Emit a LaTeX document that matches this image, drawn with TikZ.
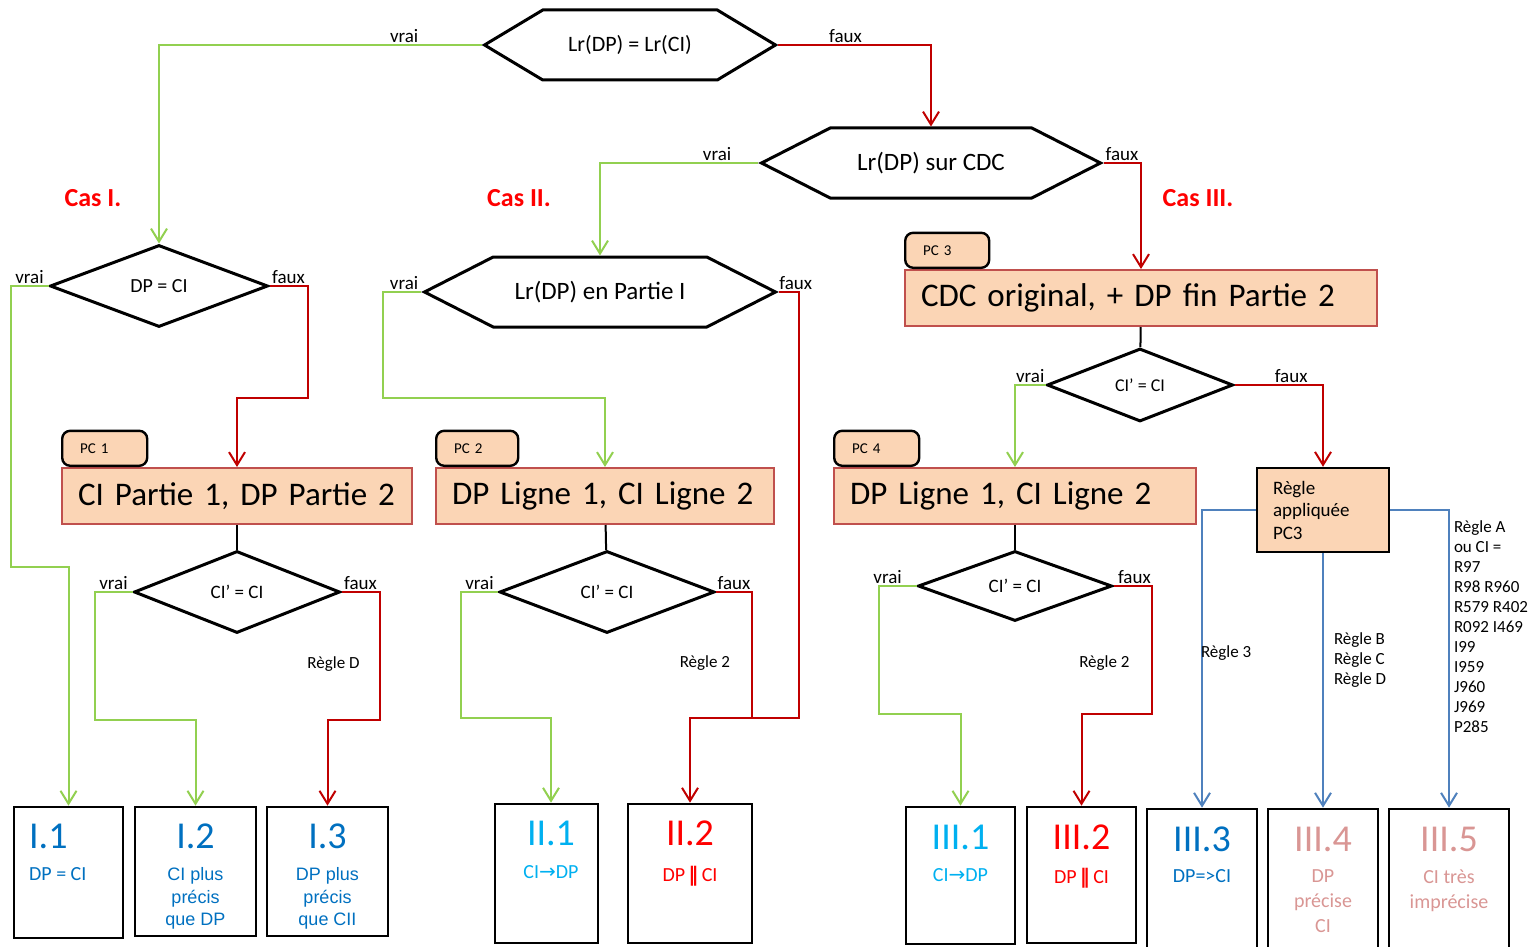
\documentclass[tikz,border=0pt]{standalone}
\usepackage{fontspec}
\setmainfont{Carlito}
\newfontfamily\arialfont{Liberation Sans}
\newfontfamily\symbfont{DejaVu Sans}
\usetikzlibrary{shapes.geometric, shapes.symbols, arrows.meta, positioning}
\definecolor{vertv}{HTML}{92D050}
\definecolor{rougef}{HTML}{C00000}
\definecolor{bleub}{HTML}{4F81BD}
\definecolor{orangef}{HTML}{FBD5B5}
\definecolor{bordo}{HTML}{C0504D}
\definecolor{bleui}{HTML}{0070C0}
\definecolor{cyanii}{HTML}{00B0F0}
\definecolor{rougeii}{HTML}{FF0000}
\definecolor{roseiii}{HTML}{D99694}
\tikzstyle{hexa} = [signal, signal to=west and east, signal from=nowhere, draw, line width=1.5pt, inner sep=0pt, minimum height=35pt, font=\fontsize{12.5}{15}\selectfont]
\tikzstyle{losange} = [diamond, draw, line width=1.5pt, inner sep=0pt, font=\fontsize{9.5}{11}\selectfont]
\tikzstyle{etape} = [rectangle, draw=bordo, line width=1pt, fill=orangef, minimum height=28pt, inner xsep=8pt, align=left, font=\fontsize{16.5}{19}\selectfont]
\tikzstyle{onglet} = [rectangle, rounded corners=4pt, draw, line width=1.2pt, fill=orangef, text width=24.5pt, inner xsep=9pt, minimum height=17.5pt, align=left, anchor=south west, font=\fontsize{7.5}{9}\selectfont]
\tikzstyle{regle} = [rectangle, draw, line width=1.2pt, fill=orangef, text width=50pt, inner xsep=8pt, minimum height=42pt, align=left, font=\fontsize{9.5}{11.25}\selectfont]
\tikzstyle{resultat} = [rectangle, draw, line width=1.3pt]
\tikzstyle{numero} = [inner sep=0pt, anchor=north, font=\fontsize{19}{21}\selectfont]
\tikzstyle{detail} = [inner sep=0pt, anchor=north, align=center, font=\fontsize{10}{12.5}\selectfont]
\tikzstyle{cas} = [text=rougeii, font=\bfseries\fontsize{13}{15}\selectfont]
\tikzstyle{lbl} = [above, inner sep=0.5pt, font=\fontsize{9.5}{11}\selectfont]
\tikzstyle{cond} = [inner sep=0pt, align=left, font=\fontsize{8.5}{10}\selectfont]
\tikzstyle{arrowv} = [draw=vertv, line width=1pt, -{Straight Barb[length=6.5pt, width=8pt]}]
\tikzstyle{arrowf} = [draw=rougef, line width=1pt, -{Straight Barb[length=6.5pt, width=8pt]}]
\tikzstyle{arrowb} = [draw=bleub, line width=1pt, -{Straight Barb[length=6.5pt, width=8pt]}]
\tikzstyle{lignef} = [draw=rougef, line width=1pt]
\tikzstyle{lien} = [draw=black, line width=1pt]

\begin{document}
\begin{tikzpicture}[x=0.5pt, y=-0.5pt]
\useasboundingbox (0,0) rectangle (1531,947);

% tests
\node (h1) [hexa, minimum width=145.5pt, signal pointer angle=62, font=\fontsize{11}{13}\selectfont] at (630,45) {Lr(DP) = Lr(CI)};
\node (h2) [hexa, minimum width=169.5pt, signal pointer angle=54] at (931,163) {Lr(DP) sur CDC};
\node (h3) [hexa, minimum width=175.5pt, signal pointer angle=54] at (600,292) {Lr(DP) en Partie I};
\node (d1) [losange, minimum width=109pt, minimum height=41pt, font=\fontsize{10}{12}\selectfont] at (159,286) {DP = CI};
\node (d2) [losange, minimum width=103pt, minimum height=41pt] at (237,592) {CI’ = CI};
\node (d3) [losange, minimum width=107.5pt, minimum height=41pt] at (607,592) {CI’ = CI};
\node (d4) [losange, minimum width=93pt, minimum height=36.5pt, font=\fontsize{9}{11}\selectfont] at (1140,385) {CI’ = CI};
\node (d5) [losange, minimum width=97pt, minimum height=35pt] at (1015,586) {CI’ = CI};

% cas
\node (casI) [cas] at (93,198) {Cas I.};
\node (casII) [cas] at (519,198) {Cas II.};
\node (casIII) [cas] at (1198,198) {Cas III.};

% PC
\node (b1) [etape, text width=159pt] at (237,496) {CI Partie 1, DP Partie 2};
\node (b2) [etape, text width=153pt] at (605,496) {DP Ligne 1, CI Ligne 2};
\node (b3) [etape, text width=220pt] at (1141,298) {CDC original, + DP fin Partie 2};
\node (b4) [etape, text width=165pt] at (1015,496) {DP Ligne 1, CI Ligne 2};
\node (pc1) [onglet] at (b1.north west) {PC 1};
\node (pc2) [onglet, text width=23pt] at (b2.north west) {PC 2};
\node (pc3) [onglet, text width=24pt] at (b3.north west) {PC 3};
\node (pc4) [onglet] at (b4.north west) {PC 4};
\node (rg) [regle] at (1323,510) {Règle\\appliquée\\PC3};

% resultats
\node (i11) [resultat, minimum width=54.5pt, minimum height=65.5pt] at (68.5,872.5) {};
\node (i12) [resultat, minimum width=60.5pt, minimum height=64.5pt] at (195.5,871.5) {};
\node (i13) [resultat, minimum width=60.5pt, minimum height=64.5pt] at (327.5,871.5) {};
\node (i21) [resultat, minimum width=51.5pt, minimum height=69.5pt] at (546.5,873.5) {};
\node (i22) [resultat, minimum width=62pt, minimum height=69.5pt] at (690,873.5) {};
\node (i31) [resultat, minimum width=54.5pt, minimum height=68.5pt] at (960.5,875.5) {};
\node (i32) [resultat, minimum width=54.5pt, minimum height=68pt] at (1081.5,875) {};
\node (i33) [resultat, minimum width=55pt, minimum height=71pt] at (1202,880) {};
\node (i34) [resultat, minimum width=55pt, minimum height=71pt] at (1323,880) {};
\node (i35) [resultat, minimum width=60pt, minimum height=71pt] at (1449,880) {};

\node (n11) [numero, anchor=north west, text=bleui] at ([xshift=8pt, yshift=-9pt]i11.north west) {I.1};
\node [detail, anchor=north west, text=bleui] at ([yshift=-9pt]n11.south west) {DP = CI};
\node (n12) [numero, text=bleui] at ([yshift=-9pt]i12.north) {I.2};
\node [detail, text=bleui, font=\arialfont\fontsize{9}{11.25}\selectfont] at ([yshift=-9pt]n12.south) {CI plus\\précis\\que DP};
\node (n13) [numero, text=bleui] at ([yshift=-9pt]i13.north) {I.3};
\node [detail, text=bleui, font=\arialfont\fontsize{9}{11.25}\selectfont] at ([yshift=-9pt]n13.south) {DP plus\\précis\\que CII};
\node (n21) [numero, text=cyanii] at ([xshift=2.25pt, yshift=-9pt]i21.north) {II.1};
\node [detail, text=cyanii] at ([yshift=-9.5pt]n21.south) {CI{\symbfont →}DP};
\node (n22) [numero, text=rougeii] at ([yshift=-9pt]i22.north) {II.2};
\node [detail, text=rougeii] at ([yshift=-9.5pt]n22.south) {DP\,{\symbfont\bfseries ‖}\,CI};
\node (n31) [numero, text=cyanii] at ([yshift=-9.5pt]i31.north) {III.1};
\node [detail, text=cyanii] at ([yshift=-9pt]n31.south) {CI{\symbfont →}DP};
\node (n32) [numero, text=rougeii] at ([yshift=-9.5pt]i32.north) {III.2};
\node [detail, text=rougeii] at ([yshift=-8.5pt]n32.south) {DP\,{\symbfont\bfseries ‖}\,CI};
\node (n33) [numero, text=bleui] at ([yshift=-9.5pt]i33.north) {III.3};
\node [detail, text=bleui] at ([yshift=-8.5pt]n33.south) {DP=>CI};
\node (n34) [numero, text=roseiii] at ([yshift=-9.5pt]i34.north) {III.4};
\node [detail, text=roseiii] at ([yshift=-8.5pt]n34.south) {DP\\précise\\CI};
\node (n35) [numero, text=roseiii] at ([yshift=-9.5pt]i35.north) {III.5};
\node [detail, text=roseiii] at ([yshift=-8.5pt]n35.south) {CI très\\imprécise};

% liaisons
\draw [arrowv] (h1.west) -| node[lbl, pos=0.12] {vrai} (d1.north);
\draw [arrowf] (h1.east) -| node[lbl, pos=0.22] {faux} (h2.north);
\draw [arrowv] (h2.west) -| node[lbl, pos=0.13] {vrai} (h3.north);
\draw [arrowf] (h2.east) -| node[lbl, pos=0.245] {faux} (b3.north);
\draw [arrowv] (h3.west) -- node[lbl, pos=0.45] {vrai} ++(-38,0) -- ++(0,106) -| (b2.north);
\coordinate (j2) at (752,718);
\draw [arrowf] (h3.east) -- node[lbl, pos=0.85] {faux} ++(20,0) |- (j2) -| (i22.north);

\draw [arrowv] (d1.west) -- node[lbl] {vrai} ++(-38,0) -- ++(0,281) -| (i11.north);
\draw [arrowf] (d1.east) -- node[lbl] {faux} ++(38,0) -- ++(0,112) -| (b1.north);
\draw [lien] (b1) -- (d2);
\draw [arrowv] (d2.west) -- node[lbl] {vrai} ++(-38,0) -- ++(0,128) -| (i12.north);
\draw [arrowf] (d2.east) -- node[lbl] {faux} ++(38,0) -- node[cond, pos=0.56, left=9.5pt] {Règle D} ++(0,128) -| (i13.north);

\draw [lien] (b2) -- (d3);
\draw [arrowv] (d3.west) -- node[lbl] {vrai} ++(-37,0) -- ++(0,126) -| ([xshift=2.25pt]i21.north);
\draw [lignef] (d3.east) -| node[lbl, pos=0.25] {faux} node[cond, pos=0.78, left=10.5pt] {Règle 2} (j2);

\draw [lien] (b3) -- (d4);
\draw [arrowv] (d4.west) -| node[lbl, pos=0.25] {vrai} (b4.north);
\draw [arrowf] (d4.east) -| node[lbl, pos=0.32] {faux} (rg.north);
\draw [lien] (b4) -- (d5);
\draw [arrowv] (d5.west) -- node[lbl, pos=0.76] {vrai} ++(-38,0) -- ++(0,128) -| (i31.north);
\draw [arrowf] (d5.east) -- node[lbl, pos=0.55] {faux} ++(38,0) -- node[cond, pos=0.6, left=10.5pt] {Règle 2} ++(0,128) -| (i32.north);

\draw [arrowb] (rg.west) -| node[cond, pos=0.74, anchor=west, xshift=-1pt] {Règle 3} (i33.north);
\draw [arrowb] (rg.south) -- node[cond, pos=0.42, right=5pt] {Règle B\\Règle C\\Règle D} (i34.north);
\draw [arrowb] (rg.east) -| node[cond, pos=0.5, anchor=north west, xshift=2pt, yshift=-5pt] {Règle A\\ou CI =\\R97\\R98 R960\\R579 R402\\R092 I469\\I99\\I959\\J960\\J969\\P285} (i35.north);
\end{tikzpicture}
\end{document}
